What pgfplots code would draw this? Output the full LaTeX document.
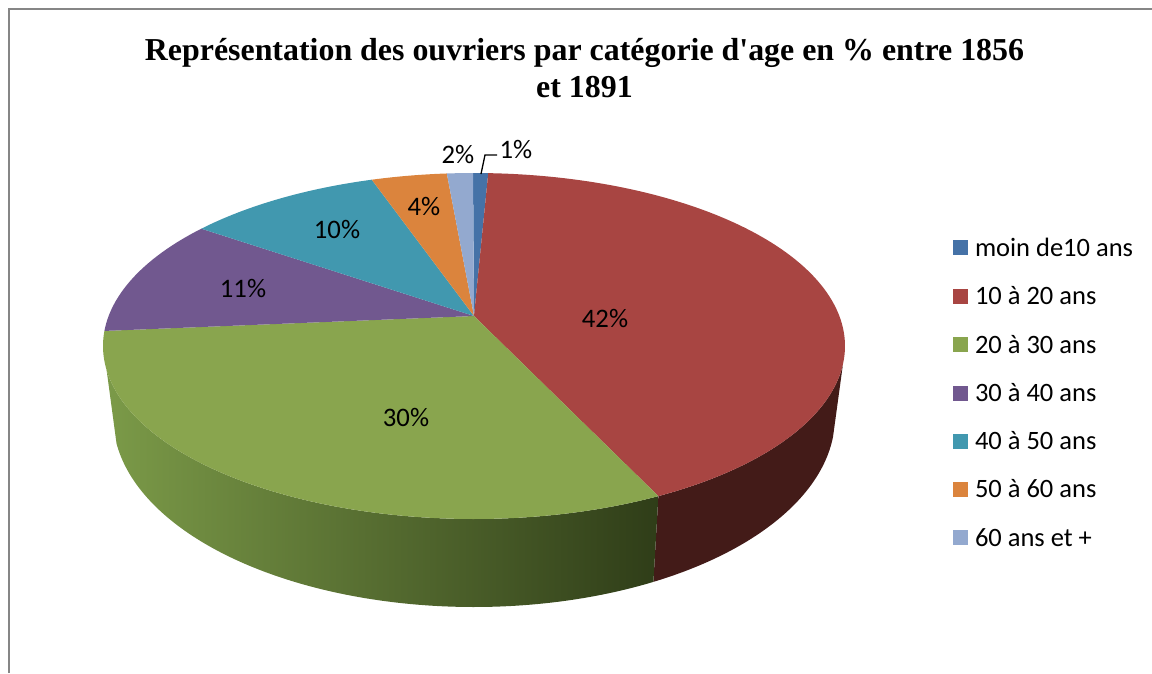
\documentclass[border=0pt]{standalone}
\usepackage{fontspec}
\setmainfont{Carlito}
\newfontfamily\titlefont{Liberation Serif}[BoldFont={Liberation Serif Bold}]
\usepackage{pgfplots}
\pgfplotsset{compat=1.18}
\definecolor{cblue}{HTML}{4572A7}
\definecolor{cred}{HTML}{A84542}
\definecolor{cgreen}{HTML}{89A54E}
\definecolor{cpurple}{HTML}{71588F}
\definecolor{cteal}{HTML}{4198AF}
\definecolor{corange}{HTML}{DB843D}
\definecolor{clight}{HTML}{93A9CF}
\definecolor{csidered}{HTML}{431B18}
\definecolor{gleft}{HTML}{7B9A48}
\definecolor{gright}{HTML}{2F3D18}
\definecolor{frameg}{HTML}{868686}
% ellipse outline: centre x, centre y, radius x, radius y, from angle, to angle
\newcommand\addarc[6]{%
  \pgfmathtruncatemacro\n{max(2,ceil(abs(#6-#5)))}%
  \foreach \i in {0,...,\n}{%
    \pgfmathsetmacro\t{#5+(#6-#5)/\n*\i}%
    \pgfmathsetmacro\xx{#1+#3*cos(\t)}%
    \pgfmathsetmacro\yy{#2+#4*sin(\t)}%
    \xdef\pts{\pts (\xx,\yy)}%
  }}
% slice of the top face: from, to, colour, legend text
\newcommand\topslice[4]{%
  \gdef\pts{(474,316)}%
  \addarc{474}{346}{371}{173}{#1}{#2}%
  \edef\tmp{\noexpand\addplot[fill=#3,draw=none] coordinates {\pts} -- cycle;}\tmp
  \addlegendentry{#4}}
% wall of the pie: from, to, options
\newcommand\sideslice[3]{%
  \gdef\pts{}%
  \addarc{474}{346}{371}{173}{#1}{#2}%
  \addarc{474}{417}{361}{190}{#2}{#1}%
  \edef\tmp{\noexpand\addplot[#3,draw=none,forget plot] coordinates {\pts} -- cycle;}\tmp}
\begin{document}
\begin{tikzpicture}
\begin{axis}[
  scale only axis, width=1152pt, height=673pt,
  xmin=0, xmax=1152, ymin=0, ymax=673, y dir=reverse,
  hide axis, clip=false, no markers,
  legend cell align=left,
  legend image code/.code={\path[#1,draw=none] (0pt,-7.5pt) rectangle (15pt,7.5pt);},
  legend style={draw=none, fill=none, at={(953/1152,1-236/673)}, anchor=north west,
    inner sep=0pt, outer sep=0pt, row sep=24.7pt, font=\fontsize{26.5}{26.5}\selectfont,
    /tikz/every odd column/.append style={column sep=5pt}},
]
\addplot[draw=frameg, line width=2pt, forget plot] coordinates {(8.5,673) (8.5,8.5) (1152,8.5)};
\sideslice{6}{60.2}{fill=csidered}
\sideslice{60.2}{172}{left color=gleft, right color=gright}
\topslice{269.85}{272.2}{cblue}{moin de10 ans}
\topslice{272.2}{420.2}{cred}{10 à 20 ans}
\topslice{60.2}{185}{cgreen}{20 à 30 ans}
\topslice{185}{222.7}{cpurple}{30 à 40 ans}
\topslice{222.7}{254}{cteal}{40 à 50 ans}
\topslice{254}{265.8}{corange}{50 à 60 ans}
\topslice{265.8}{269.85}{clight}{60 ans et +}
\addplot[black, line width=1.3pt, forget plot] coordinates {(481,174) (485,155) (497,155)};
\begin{scope}[every node/.style={inner sep=0pt, font=\fontsize{26.7}{26.7}\selectfont}]
\node at (axis cs:516,149) {1\%};
\node at (axis cs:458,154) {2\%};
\node at (axis cs:424,206) {4\%};
\node at (axis cs:337,229) {10\%};
\node at (axis cs:243,288) {11\%};
\node at (axis cs:406,417) {30\%};
\node at (axis cs:605,318) {42\%};
\end{scope}
\node[inner sep=0pt, font=\titlefont\bfseries\fontsize{31.9}{37}\selectfont, align=center] at (axis cs:584.5,68)
  {Représentation des ouvriers par catégorie d'age en \% entre 1856\\et 1891};
\end{axis}
\pgfresetboundingbox
\path[use as bounding box] (0,0) rectangle (1152pt,673pt);
\end{tikzpicture}
\end{document}
